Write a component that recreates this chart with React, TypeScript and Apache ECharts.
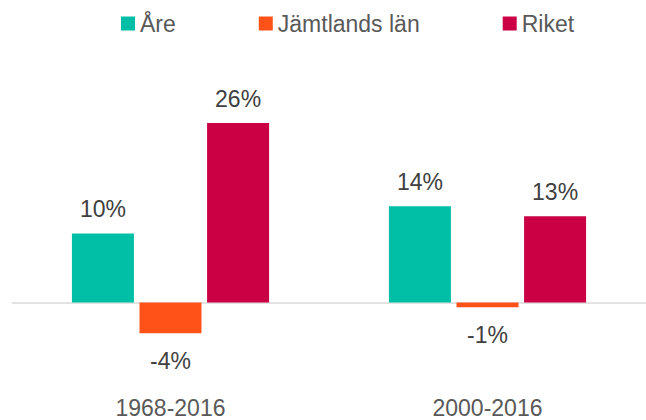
import React, { useEffect, useRef } from "react";
import * as echarts from "echarts";

const categories = ["1968-2016", "2000-2016"];
const seriesNames = ["Åre", "Jämtlands län", "Riket"];
const areValues = [10.0, 13.95];
const jamtlandValues = [-4.45, -0.7];
const riketValues = [26.0, 12.5];
const colors = ["#00bfa6", "#ff5218", "#cb0044"];

export default function App() {
  const ref = useRef<HTMLDivElement>(null);
  useEffect(() => {
    if (!ref.current) return;
    const chart = echarts.init(ref.current, null, { renderer: "svg" });
    const font = "'Liberation Sans', Arial, sans-serif";
    const mk = (name: string, data: number[], color: string, withZero: boolean) => ({
      name,
      type: "bar",
      barWidth: 62,
      barGap: "9%",
      z: 3,
      itemStyle: { color },
      label: {
        show: true,
        position: "top",
        distance: 13,
        fontSize: 23,
        fontFamily: font,
        color: "#404040",
        formatter: (p: any) => Math.round(p.value) + "%",
      },
      data: data.map((v: number) => ({
        value: v,
        label: v < 0 ? { position: "bottom", distance: 16 } : undefined,
      })),
      markLine: withZero
        ? {
            silent: true,
            symbol: ["none", "none"],
            label: { show: false },
            z: 1,
            lineStyle: { color: "#d9d9d9", width: 1.5, type: "solid" },
            data: [{ yAxis: 0 }],
          }
        : undefined,
    });
    chart.setOption({
      animation: false,
      textStyle: { fontFamily: font },
      legend: {
        top: 7,
        left: 116,
        icon: "rect",
        itemWidth: 14,
        itemHeight: 14,
        itemGap: 83,
        textStyle: { fontSize: 23, color: "#595959", fontFamily: font },
        data: seriesNames,
      },
      grid: { left: 12, right: 0, top: 95.5, bottom: 48.5, containLabel: false, outerBoundsMode: "none" },
      xAxis: {
        type: "category",
        data: categories,
        position: "bottom",
        axisLine: { show: false, onZero: false },
        axisTick: { show: false },
        axisLabel: { margin: 25, fontSize: 23, color: "#595959", fontFamily: font },
      },
      yAxis: {
        type: "value",
        min: -10,
        max: 30,
        show: false,
        splitLine: { show: false },
      },
      series: [
        mk(seriesNames[0], areValues, colors[0], true),
        mk(seriesNames[1], jamtlandValues, colors[1], false),
        mk(seriesNames[2], riketValues, colors[2], false),
      ],
    });
    return () => chart.dispose();
  }, []);
  return (
    <div
      ref={ref}
      style={{ position: "fixed", left: 0, top: 0, width: 646, height: 420, background: "#fff" }}
    />
  );
}
